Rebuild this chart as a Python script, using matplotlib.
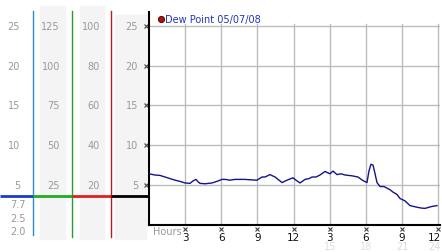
import matplotlib
matplotlib.use("Agg")
import matplotlib.pyplot as plt
from matplotlib.patches import Rectangle

# ---- data ----
hours = [0.00, 0.50, 0.91, 1.33, 1.74, 2.16, 2.57, 2.99, 3.40, 3.65, 3.90, 4.07, 4.23, 4.65,
         5.23, 5.73, 6.06, 6.31, 6.72, 7.14, 7.55, 7.97, 8.38, 8.96, 9.38, 9.63, 10.04, 10.46,
         10.79, 11.04, 11.45, 11.95, 12.20, 12.53, 12.95, 13.28, 13.53, 13.86, 14.19, 14.61,
         15.02, 15.27, 15.60, 15.93, 16.27, 16.85, 17.34, 17.76, 18.09, 18.26, 18.42, 18.59,
         18.76, 18.92, 19.17, 19.50, 19.75, 20.00, 20.25, 20.58, 20.83, 21.24, 21.66, 22.24,
         22.57, 22.90, 23.24, 23.49, 23.90]
dew_point = [6.4, 6.25, 6.2, 6.0, 5.8, 5.6, 5.45, 5.25, 5.2, 5.5, 5.7, 5.4, 5.2, 5.15,
             5.25, 5.5, 5.7, 5.7, 5.6, 5.7, 5.7, 5.7, 5.65, 5.6, 6.0, 6.0, 6.3, 6.0,
             5.6, 5.3, 5.6, 5.9, 5.6, 5.25, 5.7, 5.8, 6.0, 6.0, 6.25, 6.7,
             6.4, 6.75, 6.3, 6.4, 6.25, 6.15, 6.0, 5.55, 5.3, 6.8, 7.6, 7.5,
             6.4, 5.3, 4.8, 4.8, 4.6, 4.4, 4.1, 3.8, 3.3, 3.0, 2.4, 2.2,
             2.1, 2.05, 2.2, 2.3, 2.4]

y_ticks = [5, 10, 15, 20, 25]
col1_labels = ["5", "10", "15", "20", "25"]
col2_labels = ["25", "50", "75", "100", "125"]
col3_labels = ["20", "40", "60", "80", "100"]
col4_labels = ["5", "10", "15", "20", "25"]
extra_labels = ["7.7", "2.5", "2.0"]
x_ticks = [3, 6, 9, 12, 15, 18, 21, 24]
x_tick_labels = ["3", "6", "9", "12", "3", "6", "9", "12"]
faint_ticks = [15, 18, 21, 24]
faint_labels = ["15", "18", "21", "24"]
legend_label = "Dew Point 05/07/08"

W, H = 442, 253
fig = plt.figure(figsize=(W / 100, H / 100), dpi=100)

# overlay axes in pixel coordinates
ov = fig.add_axes([0, 0, 1, 1])
ov.set_xlim(0, W)
ov.set_ylim(H, 0)
ov.axis("off")

# main chart axes: x from 149 to 440 px, y from 13 to 225.7 px
x0, x1 = 149, 440
ytop, ybot = 13, 225.7
ppu = 7.95
ymax = (ybot - ytop) / ppu
xmax = (x1 - x0) / 12.05
ax = fig.add_axes([x0 / W, 1 - ybot / H, (x1 - x0) / W, (ybot - ytop) / H])
ax.set_xlim(0, xmax)
ax.set_ylim(0, ymax)
ax.patch.set_alpha(0)
for s in ["top", "right"]:
    ax.spines[s].set_visible(False)
ax.spines["left"].set_linewidth(1.5)
ax.spines["bottom"].set_linewidth(1.5)
ax.set_xticks([])
ax.set_yticks([])
for v in y_ticks:
    ax.axhline(v, color="#bdbdbd", lw=1.0, zorder=1)
for h in x_ticks:
    ax.plot([h, h], [0, 25.3], color="#bdbdbd", lw=1.0, zorder=1)
ax.plot(hours, dew_point, color="#14148c", lw=1.0, zorder=3)

def ypx(v):
    return ybot - v * ppu

# left panel shaded bands
for (xa, xb, ya) in [(40, 65, 7), (80, 104, 7), (115, 146, 16)]:
    ov.add_patch(Rectangle((xa, ya), xb - xa, 240 - ya, color="#f4f4f4", zorder=0))

# vertical coloured lines
ov.plot([33, 33], [12, 236], color="#2a8fc8", lw=1.0)
ov.plot([72, 72], [12, 238], color="#2a9a2a", lw=1.0)
ov.plot([111, 111], [12, 238], color="#b02020", lw=1.0)

# horizontal coloured line
ov.plot([0, 33], [197, 197], color="#1a3acc", lw=2.0, solid_capstyle="butt")
ov.plot([33, 72], [197, 197], color="#22aa22", lw=2.0, solid_capstyle="butt")
ov.plot([72, 111], [197, 197], color="#dd2020", lw=2.0, solid_capstyle="butt")
ov.plot([111, 149], [197, 197], color="#000000", lw=2.0, solid_capstyle="butt")

gray = "#999999"
fs = 7
for v, a, b, c, d in zip(y_ticks, col1_labels, col2_labels, col3_labels, col4_labels):
    yy = ypx(v)
    ov.text(20, yy, a, ha="right", va="center", fontsize=fs, color=gray)
    ov.text(60, yy, b, ha="right", va="center", fontsize=fs, color=gray)
    ov.text(100, yy, c, ha="right", va="center", fontsize=fs, color=gray)
    ov.text(138, yy, d, ha="right", va="center", fontsize=fs, color=gray)
    ov.plot([146], [yy], marker="x", ms=2.5, mew=0.8, color="#444444")

for lbl, yy in zip(extra_labels, [205, 219, 232]):
    ov.text(26, yy, lbl, ha="right", va="center", fontsize=fs, color=gray)

# bottom labels
ov.text(153, 232, "Hours", ha="left", va="center", fontsize=fs, color=gray)
for i, (h, lbl) in enumerate(zip(x_ticks, x_tick_labels)):
    xx = x0 + h * 12.05
    ov.plot([xx], [230], marker="x", ms=2.5, mew=0.8, color="#444444")
    if i == len(x_ticks) - 1:
        ov.text(441, 238.5, lbl, ha="right", va="center", fontsize=7.5, color="#111111")
    else:
        ov.text(xx, 238.5, lbl, ha="center", va="center", fontsize=7.5, color="#111111")
for i, (h, lbl) in enumerate(zip(faint_ticks, faint_labels)):
    xx = x0 + h * 12.05
    if i == len(faint_ticks) - 1:
        ov.text(441, 247.5, lbl, ha="right", va="center", fontsize=7, color="#dddddd")
    else:
        ov.text(xx, 247.5, lbl, ha="center", va="center", fontsize=7, color="#dddddd")

# legend
ov.plot([161], [20], marker="o", ms=4.5, color="#b01010", mec="#400000", mew=0.6)
ov.text(165, 20, legend_label, ha="left", va="center", fontsize=7, color="#2233bb")

fig.savefig("out.png", dpi=100)
